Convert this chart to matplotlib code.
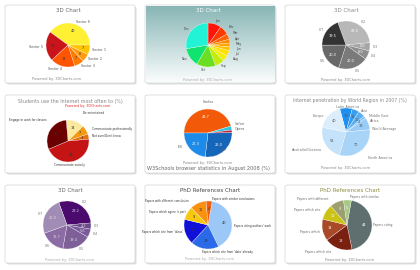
import numpy as np
import matplotlib.pyplot as plt
from matplotlib.patches import FancyBboxPatch

W, H = 420, 270

# Данные для девяти круговых диаграмм
p1_labels = ['Sector 6', 'Sector 5', 'Sector 4', 'Sector 3', 'Sector 2', 'Sector 1']
p1_values = [40, 22, 18, 7, 6, 7]
p1_colors = ['#FFF033', '#C8141A', '#FF5500', '#FF7A00', '#FF9C10', '#FFC400']

p2_labels = ['Jan', 'Feb', 'Mar', 'Apr', 'May', 'Jun', 'Jul', 'Aug', 'Sep', 'Oct', 'Nov', 'Dec']
p2_values = [9.7, 6.9, 4.2, 2.8, 2.8, 2.8, 4.2, 4.2, 6.9, 13.9, 13.9, 27.7]
p2_colors = ['#FF140A', '#FF3A00', '#FF6400', '#FF8800', '#FFA400', '#FFC200',
             '#FFE000', '#F2F000', '#C4EC10', '#6CDE22', '#10E46E', '#22F2D6']

p3_labels = ["'02", "'03", "'04", "'05", "'06", "'07"]
p3_values = [29.0, 5.5, 6.0, 20.0, 20.0, 19.5]
p3_colors = ['#B8B8B8', '#A6A6A6', '#8E8E8E', '#7A7A7A', '#686868', '#333333']

p4_labels = ['Be entertained', 'Communicate professionally', 'Not sure/Don\'t know',
             'Communicate socially', 'Engage in work for classes']
p4_values = [14, 7, 4, 45, 30]
p4_colors = ['#FCE9A0', '#F39A10', '#E87010', '#C41414', '#6B0000']

p5_labels = ['Firefox', 'Safari', 'Opera', 'IE7', 'IE6']
p5_values = [43.7, 2.6, 1.8, 26.0, 22.3]
p5_colors = ['#F25A0A', '#33C4E0', '#C0203C', '#1565B8', '#1E8BE8']

p6_labels = ['Latin America', 'Asia', 'Middle East', 'Africa', 'World Average',
             'North America', 'Australia/Oceania', 'Europe']
p6_values = [18.9, 10.7, 10.1, 3.6, 19.1, 69.7, 53.5, 40.0]
p6_colors = ['#1E90F0', '#3A9EF0', '#5AAEF2', '#7CBEF4', '#98CCF6',
             '#A8D4F8', '#C4E2FA', '#DCEEFC']

p7_labels = ["'02", "'03", "'04", "'05", "'06", "'07"]
p7_values = [29.2, 4.2, 5.6, 19.4, 16.7, 25.0]
p7_colors = ['#4A0A6E', '#6A4A8A', '#7A5A9A', '#7E5F98', '#8C6CA4', '#A08CB4']

p8_labels = ['Papers citing authors\' work', 'Papers which cite from \'data\' already',
             'Papers which cite from \'ideas\'', 'Papers which agree in part',
             'Papers with different conclusion', 'Papers with similar conclusions']
p8_values = [40, 19, 17, 9, 11, 4]
p8_colors = ['#9CC8F8', '#2A6AE8', '#1010D8', '#F8C810', '#F89010', '#F06010']

p9_labels = ['Papers citing', 'Papers which cite', 'Papers which', 'Papers which cite',
             'Papers with different', 'Papers with similar']
p9_values = [44, 18, 14, 10, 9, 5]
p9_colors = ['#5F6E6E', '#7A2010', '#A84A28', '#CCC214', '#9CA070', '#A8C888']


def fig_rect(x, y, w, h):
    # пиксели -> доли фигуры
    return [x / W, 1 - (y + h) / H, w / W, h / H]


fig = plt.figure(figsize=(W / 100, H / 100), dpi=100)
fig.patch.set_facecolor('white')

panels = [(5, 5), (145, 5), (285, 5), (5, 95), (145, 95), (285, 95),
          (5, 185), (145, 185), (285, 185)]
pw, ph = 130, 78

for i, (x, y) in enumerate(panels):
    # тень и рамка панели (под осями)
    sh = FancyBboxPatch(((x + 1.5) / W, 1 - (y + ph + 1.5) / H), pw / W, ph / H,
                        boxstyle='round,pad=0,rounding_size=0.006', transform=fig.transFigure,
                        facecolor='#c8c8c8', edgecolor='none', alpha=0.6, zorder=-10)
    fig.patches.append(sh)
    box = FancyBboxPatch((x / W, 1 - (y + ph) / H), pw / W, ph / H,
                         boxstyle='round,pad=0,rounding_size=0.006', transform=fig.transFigure,
                         facecolor='white', edgecolor='#d4d4d4', linewidth=0.5, zorder=-9)
    fig.patches.append(box)
    if i == 1:
        # градиентный фон второй панели
        gax = fig.add_axes(fig_rect(x + 0.5, y + 0.5, pw - 1, ph - 1), zorder=-5)
        grad = np.linspace(0, 1, 100).reshape(-1, 1)
        top = np.array([0.53, 0.71, 0.71])
        bot = np.array([0.98, 0.99, 0.99])
        img = top + (bot - top) * grad[:, :, None]
        gax.imshow(img, aspect='auto', extent=[0, 1, 0, 1])
        gax.axis('off')


def draw_pie(cx, cy, r, values, labels, colors, start, inner, lab_color='#555555',
             in_color='#333333', clock=True, fs=2.4, label_pos=None):
    ax = fig.add_axes(fig_rect(cx - r, cy - r, 2 * r, 2 * r))
    total = sum(values)
    wedges, texts, autotexts = ax.pie(
        values, labels=labels, colors=colors, startangle=start, counterclock=not clock,
        labeldistance=1.12, pctdistance=0.68,
        autopct=lambda p: inner(p * total / 100.0),
        wedgeprops=dict(edgecolor='#ffffff', linewidth=0.2),
        textprops=dict(fontsize=fs, color=lab_color))
    for t in autotexts:
        t.set_color(in_color)
        t.set_fontsize(2.5)
    # ручная раскладка подписей (в пикселях картинки)
    if label_pos:
        for k, (px, py, ha) in label_pos.items():
            texts[k].set_position(((px - cx) / r, -(py - cy) / r))
            texts[k].set_ha(ha)
            texts[k].set_va('center')
    ax.set_xlim(-1, 1)
    ax.set_ylim(-1, 1)
    ax.axis('off')
    return ax


def fmt_int(v):
    return '%d' % round(v) if v >= 3 else ''


def fmt_1(v):
    return '%.1f' % v if v >= 3 else ''


# Панель 1
draw_pie(68, 45, 22, p1_values, p1_labels, p1_colors, 0, fmt_int, clock=False)
fig.text(68 / W, 1 - 11 / H, '3D Chart', ha='center', va='center', fontsize=4, color='#666666')
fig.text(32 / W, 1 - 79 / H, 'Powered by: 3DCharts.com', ha='left', va='center', fontsize=2.6, color='#888888')

# Панель 2
draw_pie(208, 45, 22, p2_values, p2_labels, p2_colors, 90, lambda v: '', lab_color='#444444', fs=2.2,
         label_pos={1: (229, 27, 'left'), 2: (233, 33, 'left'), 3: (235, 39, 'left'),
                    4: (236, 44, 'left'), 5: (236, 49, 'left'), 6: (235, 54, 'left'),
                    7: (233, 59, 'left')})
fig.text(208 / W, 1 - 11 / H, '3D Chart', ha='center', va='center', fontsize=4, color='white')
fig.text(208 / W, 1 - 80 / H, 'Powered by: 3DCharts.com', ha='center', va='center', fontsize=2.6, color='#aaaaaa')

# Панель 3
draw_pie(346, 45, 24, p3_values, p3_labels, p3_colors, 110, fmt_1, lab_color='#777777', in_color='white')
fig.text(346 / W, 1 - 11 / H, '3D Chart', ha='center', va='center', fontsize=4, color='#888888')
fig.text(346 / W, 1 - 80 / H, 'Powered by: 3DCharts.com', ha='center', va='center', fontsize=2.6, color='#888888')

# Панель 4
draw_pie(68, 141, 21, p4_values, p4_labels, p4_colors, 95, fmt_int, lab_color='#333333', fs=2.1,
         label_pos={0: (83, 113, 'left'), 1: (92, 129, 'left'), 2: (92, 136, 'left'),
                    3: (70, 165, 'center'), 4: (47, 120, 'right')})
fig.text(70 / W, 1 - 102 / H, 'Students use the Internet most often to (%)', ha='center', va='center',
         fontsize=3.4, color='#888888')
fig.text(88 / W, 1 - 106.5 / H, 'Powered by: 3DCharts.com', ha='center', va='center', fontsize=2.4, color='#e03030')

# Панель 5
draw_pie(208, 133, 24, p5_values, p5_labels, p5_colors, 180, fmt_1, lab_color='#666666', in_color='white',
         label_pos={0: (208, 102, 'center'), 1: (235, 124, 'left'), 2: (235, 129, 'left'),
                    3: (222, 150, 'left'), 4: (183, 147, 'right')})
fig.text(208 / W, 1 - 163 / H, 'Powered by: 3DCharts.com', ha='center', va='center', fontsize=2.6, color='#888888')
fig.text(208 / W, 1 - 168.5 / H, 'W3Schools browser statistics in August 2008 (%)', ha='center', va='center',
         fontsize=3.6, color='#666666')

# Панель 6
draw_pie(346, 132, 24, p6_values, p6_labels, p6_colors, 105, fmt_int, lab_color='#777777', in_color='#555555',
         label_pos={0: (348, 107, 'center'), 1: (361, 111, 'left'), 2: (369, 116, 'left'),
                    3: (370, 121, 'left'), 4: (372, 129, 'left'), 5: (368, 158, 'left'),
                    6: (322, 150, 'right'), 7: (324, 116, 'right')})
fig.text(350 / W, 1 - 101 / H, 'Internet penetration by World Region in 2007 (%)', ha='center', va='center',
         fontsize=3.3, color='#888888')
fig.text(346 / W, 1 - 168 / H, 'Powered by: 3DCharts.com', ha='center', va='center', fontsize=2.6, color='#888888')

# Панель 7
draw_pie(67, 225, 24, p7_values, p7_labels, p7_colors, 110, fmt_1, lab_color='#777777', in_color='#dddddd')
fig.text(70 / W, 1 - 191 / H, '3D Chart', ha='center', va='center', fontsize=4, color='#666666')
fig.text(70 / W, 1 - 260 / H, 'Powered by: 3DCharts.com', ha='center', va='center', fontsize=2.6, color='#aaaaaa')

# Панель 8
draw_pie(208, 225, 24, p8_values, p8_labels, p8_colors, 80, fmt_int, lab_color='#333333', fs=2.0,
         label_pos={0: (234, 226, 'left'), 1: (202, 252, 'left'), 2: (183, 232, 'right'),
                    3: (186, 212, 'right'), 4: (189, 201, 'right'), 5: (212, 199, 'left')})
fig.text(210 / W, 1 - 191 / H, 'PhD References Chart', ha='center', va='center', fontsize=4, color='#444444')
fig.text(210 / W, 1 - 259 / H, 'Powered by: 3DCharts.com', ha='center', va='center', fontsize=2.6, color='#aaaaaa')

# Панель 9
draw_pie(347, 225, 25, p9_values, p9_labels, p9_colors, 80, fmt_int, lab_color='#666666', in_color='white', fs=2.2,
         label_pos={0: (373, 225, 'left'), 1: (318, 252, 'center'), 2: (320, 232, 'right'),
                    3: (320, 210, 'right'), 4: (328, 199, 'right'), 5: (350, 197, 'left')})
fig.text(350 / W, 1 - 191 / H, 'PhD References Chart', ha='center', va='center', fontsize=4, color='#8a8a40')
fig.text(350 / W, 1 - 260 / H, 'Powered by: 3DCharts.com', ha='center', va='center', fontsize=2.6, color='#888888')

plt.savefig('out.png', dpi=100, facecolor='white')
